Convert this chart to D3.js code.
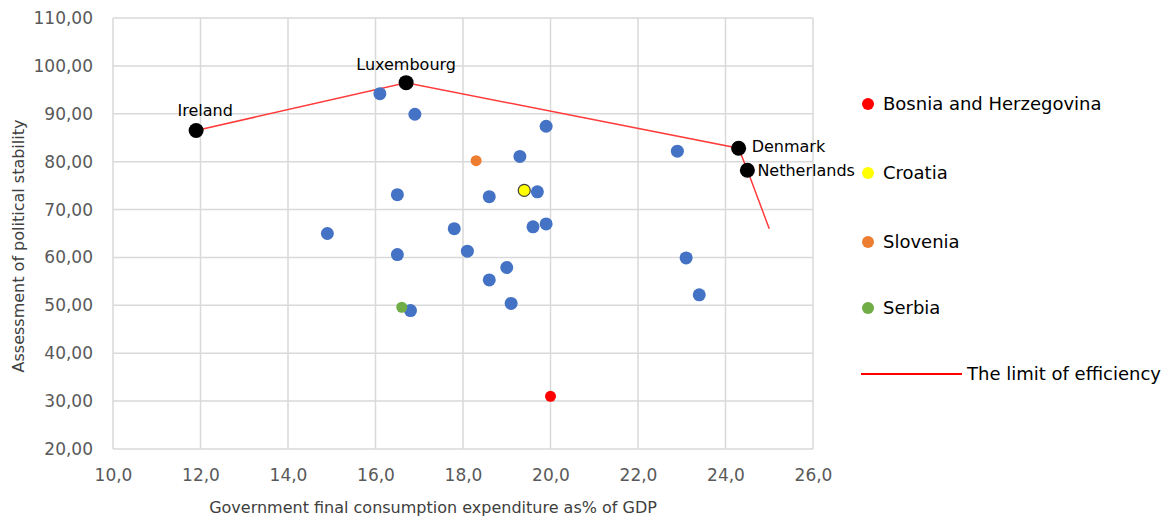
<!DOCTYPE html>
<html>
<head>
  <title>Political stability vs government consumption</title>
  <script src="https://d3js.org/d3.v7.min.js"></script>
  <style>
    body { margin: 0; background: #fff; }
    text { font-family: "DejaVu Sans", Verdana, sans-serif; }
  </style>
</head>
<body>
  <svg id="chart" width="1169" height="520"></svg>

  <script>
    // Other countries (blue)
    var otherX = [14.9, 16.1, 16.9, 16.5, 16.5, 16.8, 17.8, 18.1, 18.6, 18.6, 19.0, 19.1, 19.3, 19.7, 19.6, 19.9, 19.9, 22.9, 23.1, 23.4];
    var otherY = [65.0, 94.2, 89.9, 73.1, 60.6, 48.9, 66.0, 61.3, 72.7, 55.3, 57.9, 50.4, 81.1, 73.7, 66.4, 67.0, 87.4, 82.2, 59.9, 52.2];

    // Efficient countries (black) and frontier line
    var frontNames = ["Ireland", "Luxembourg", "Denmark", "Netherlands"];
    var frontX = [11.9, 16.7, 24.3, 24.5];
    var frontY = [86.5, 96.5, 82.8, 78.2];
    var lineX = [11.9, 16.7, 24.3, 24.5, 25.0];
    var lineY = [86.5, 96.5, 82.8, 78.2, 66.0];

    // Highlighted countries
    var hiNames = ["Bosnia and Herzegovina", "Croatia", "Slovenia", "Serbia"];
    var hiX = [20.0, 19.4, 18.3, 16.6];
    var hiY = [31.0, 74.0, 80.2, 49.6];
    var hiColors = ["#ff0000", "#ffff00", "#ed7d31", "#70ad47"];

    var xTicks = [10, 12, 14, 16, 18, 20, 22, 24, 26];
    var yTicks = [20, 30, 40, 50, 60, 70, 80, 90, 100, 110];

    var svg = d3.select("#chart");
    var pLeft = 113, pRight = 813, pTop = 18, pBottom = 449;

    var x = d3.scaleLinear().domain([10, 26]).range([pLeft, pRight]);
    var y = d3.scaleLinear().domain([20, 110]).range([pBottom, pTop]);

    var fmtX = function(d) { return d3.format(".1f")(d).replace(".", ","); };
    var fmtY = function(d) { return d3.format(".2f")(d).replace(".", ","); };

    // Gridlines
    svg.append("g")
      .selectAll("line")
      .data(xTicks)
      .enter().append("line")
      .attr("x1", function(d) { return x(d); })
      .attr("x2", function(d) { return x(d); })
      .attr("y1", pTop).attr("y2", pBottom)
      .attr("stroke", "#d9d9d9").attr("stroke-width", 1.5);

    svg.append("g")
      .selectAll("line")
      .data(yTicks)
      .enter().append("line")
      .attr("x1", pLeft).attr("x2", pRight)
      .attr("y1", function(d) { return y(d); })
      .attr("y2", function(d) { return y(d); })
      .attr("stroke", "#d9d9d9").attr("stroke-width", 1.5);

    // Axes (labels only)
    var xAxis = d3.axisBottom(x).tickValues(xTicks).tickFormat(fmtX).tickSize(0).tickPadding(20);
    var gx = svg.append("g").attr("transform", "translate(0," + pBottom + ")").call(xAxis);
    var yAxis = d3.axisLeft(y).tickValues(yTicks).tickFormat(fmtY).tickSize(0).tickPadding(20);
    var gy = svg.append("g").attr("transform", "translate(" + pLeft + ",0)").call(yAxis);
    [gx, gy].forEach(function(g) {
      g.select(".domain").remove();
      g.selectAll("text")
        .attr("fill", "#595959")
        .style("font-family", "'DejaVu Sans', Verdana, sans-serif")
        .style("font-size", "17px");
    });

    // Axis titles
    svg.append("text")
      .attr("x", 433).attr("y", 513)
      .attr("text-anchor", "middle")
      .attr("fill", "#404040")
      .style("font-size", "16px")
      .text("Government final consumption expenditure as% of GDP");

    svg.append("text")
      .attr("transform", "translate(24," + 246 + ") rotate(-90)")
      .attr("text-anchor", "middle")
      .attr("fill", "#404040")
      .style("font-size", "16px")
      .text("Assessment of political stability");

    // Frontier line
    var line = d3.line()
      .x(function(i) { return x(lineX[i]); })
      .y(function(i) { return y(lineY[i]); });
    svg.append("path")
      .attr("d", line(d3.range(lineX.length)))
      .attr("fill", "none")
      .attr("stroke", "#ff3b3b")
      .attr("stroke-width", 1.5);

    // Other countries
    svg.append("g")
      .selectAll("circle")
      .data(d3.range(otherX.length))
      .enter().append("circle")
      .attr("cx", function(i) { return x(otherX[i]); })
      .attr("cy", function(i) { return y(otherY[i]); })
      .attr("r", 6.5)
      .attr("fill", "#4472c4");

    // Highlighted countries
    svg.append("g")
      .selectAll("circle")
      .data(d3.range(hiX.length))
      .enter().append("circle")
      .attr("cx", function(i) { return x(hiX[i]); })
      .attr("cy", function(i) { return y(hiY[i]); })
      .attr("r", function(i) { return i === 1 ? 6 : 5.5; })
      .attr("fill", function(i) { return hiColors[i]; })
      .attr("stroke", function(i) { return i === 1 ? "#404040" : "none"; })
      .attr("stroke-width", 1.2);

    // Frontier countries
    svg.append("g")
      .selectAll("circle")
      .data(d3.range(frontX.length))
      .enter().append("circle")
      .attr("cx", function(i) { return x(frontX[i]); })
      .attr("cy", function(i) { return y(frontY[i]); })
      .attr("r", 7.5)
      .attr("fill", "#000");

    // Frontier labels
    var labelDx = [9, 0, 13, 10];
    var labelDy = [-15, -13, 4, 6];
    var labelAnchor = ["middle", "middle", "start", "start"];
    svg.append("g")
      .selectAll("text")
      .data(d3.range(frontNames.length))
      .enter().append("text")
      .attr("x", function(i) { return x(frontX[i]) + labelDx[i]; })
      .attr("y", function(i) { return y(frontY[i]) + labelDy[i]; })
      .attr("text-anchor", function(i) { return labelAnchor[i]; })
      .attr("fill", "#000")
      .style("font-size", "16px")
      .text(function(i) { return frontNames[i]; });

    // Legend
    var legendY = [104, 173, 242, 308];
    var lg = svg.append("g");
    hiNames.forEach(function(name, i) {
      lg.append("circle")
        .attr("cx", 868).attr("cy", legendY[i]).attr("r", 6)
        .attr("fill", hiColors[i]);
      lg.append("text")
        .attr("x", 883).attr("y", legendY[i] + 6)
        .attr("fill", "#000")
        .style("font-size", "18px")
        .text(name);
    });
    lg.append("line")
      .attr("x1", 861).attr("x2", 962)
      .attr("y1", 374).attr("y2", 374)
      .attr("stroke", "#ff0000").attr("stroke-width", 2);
    lg.append("text")
      .attr("x", 967).attr("y", 380)
      .attr("fill", "#000")
      .style("font-size", "18px")
      .text("The limit of efficiency");
  </script>
</body>
</html>
